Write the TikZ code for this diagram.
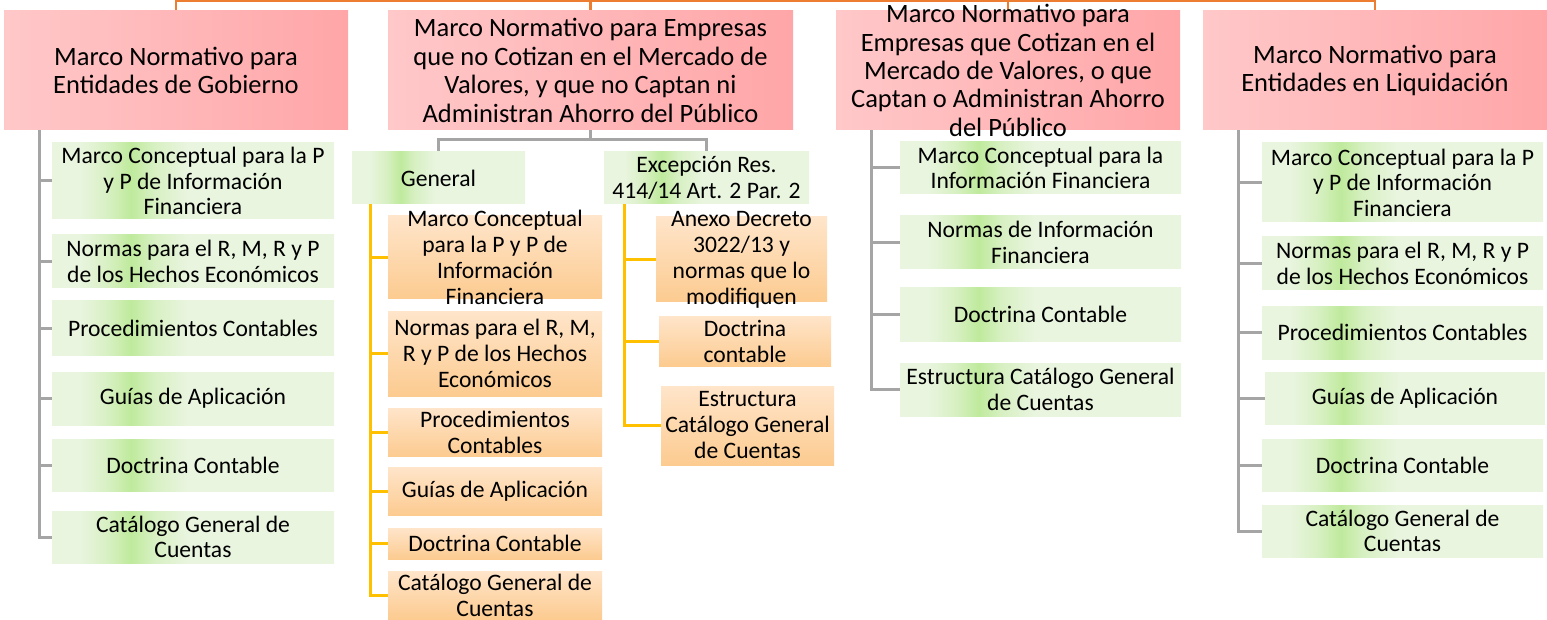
\documentclass[tikz,border=0pt]{standalone}
\usepackage{fontspec}
\setmainfont{Carlito}
\usetikzlibrary{backgrounds}
\definecolor{pinkL}{HTML}{FFC8C9}
\definecolor{pinkR}{HTML}{FFA6A8}
\definecolor{gL}{HTML}{E9F5DF}
\definecolor{gM}{HTML}{D7F0C2}
\definecolor{gD}{HTML}{BFEA9C}
\definecolor{orT}{HTML}{FFE5CA}
\definecolor{orB}{HTML}{FCCB90}
\definecolor{lineGray}{HTML}{A5A5A5}
\definecolor{gold}{HTML}{FFC000}
\definecolor{topOrange}{HTML}{ED7D31}
\pgfdeclarehorizontalshading{gband}{100bp}{color(0bp)=(gL); color(25bp)=(gL); color(30bp)=(gL); color(35bp)=(gM); color(39bp)=(gD); color(43bp)=(gM); color(49bp)=(gL); color(100bp)=(gL)}
\tikzset{
  hdr/.style={draw=none, left color=pinkL, right color=pinkR, inner sep=0pt},
  hdrtxt/.style={inner sep=0pt, align=center, text=black, font=\fontsize{26.5}{28.4}\selectfont},
  gbox/.style={draw=none, shade, shading=gband, inner sep=0pt},
  gboxtxt/.style={inner sep=0pt, align=center, text=black, font=\fontsize{23.6}{25.6}\selectfont},
  obox/.style={draw=none, top color=orT, bottom color=orB, inner sep=0pt},
  oboxtxt/.style={inner sep=0pt, align=center, text=black, font=\fontsize{23.6}{26}\selectfont},
  gline/.style={draw=lineGray, line width=3pt},
  yline/.style={draw=gold, line width=3pt},
  oline/.style={draw=topOrange, line width=2.5pt},
}
\newcommand\bx[7]{\node[#2, minimum width=#5pt, minimum height=#6pt] (#1) at (#3,#4) {};
  \node[#2txt] (#1-t) at (#1.center) {#7};}
\begin{document}
\begin{tikzpicture}[x=1pt,y=-1pt]
\useasboundingbox (0,0) rectangle (1547,620);
% headers
\bx{h1}{hdr}{176}{70.5}{344}{119}{Marco Normativo para\\Entidades de Gobierno}
\bx{h2}{hdr}{590.5}{70.5}{405}{119}{Marco Normativo para Empresas\\que no Cotizan en el Mercado de\\Valores, y que no Captan ni\\Administran Ahorro del Público}
\bx{h3}{hdr}{1008}{70.5}{344}{119}{Marco Normativo para\\Empresas que Cotizan en el\\Mercado de Valores, o que\\Captan o Administran Ahorro\\del Público}
\bx{h4}{hdr}{1375}{70.5}{344}{119}{Marco Normativo para\\Entidades en Liquidación}
% column 1
\bx{c1a}{gbox}{193}{181}{282}{76}{Marco Conceptual para la P\\y P de Información\\Financiera}
\bx{c1b}{gbox}{193}{261.5}{282}{53}{Normas para el R, M, R y P\\de los Hechos Económicos}
\bx{c1c}{gbox}{193}{328}{282}{54}{Procedimientos Contables}
\bx{c1d}{gbox}{193}{398.5}{282}{53}{Guías de Aplicación}
\bx{c1e}{gbox}{193}{465}{282}{52}{Doctrina Contable}
\bx{c1f}{gbox}{193}{537}{282}{52}{Catálogo General de\\Cuentas}
% column 2
\bx{gen}{gbox}{438.5}{178}{173}{52}{General}
\bx{exc}{gbox}{706.5}{178}{205}{52}{Excepción Res.\\414/14 Art. 2 Par. 2}
\bx{oa}{obox}{495}{257.5}{214}{83}{Marco Conceptual\\para la P y P de\\Información\\Financiera}
\bx{ob}{obox}{495}{353.5}{214}{85}{Normas para el R, M,\\R y P de los Hechos\\Económicos}
\bx{oc}{obox}{495}{432}{214}{48}{Procedimientos\\Contables}
\bx{od}{obox}{495}{491}{214}{48}{Guías de Aplicación}
\bx{oe}{obox}{495}{543.5}{214}{31}{Doctrina Contable}
\bx{of}{obox}{495}{595}{214}{48}{Catálogo General de\\Cuentas}
\bx{xa}{obox}{741.5}{259.5}{171}{85}{Anexo Decreto\\3022/13 y\\normas que lo\\modifiquen}
\bx{xb}{obox}{745}{341}{172}{50}{Doctrina\\contable}
\bx{xc}{obox}{747.5}{425.5}{173}{79}{Estructura\\Catálogo General\\de Cuentas}
% column 3
\bx{d1}{gbox}{1040.5}{168}{281}{52}{Marco Conceptual para la\\Información Financiera}
\bx{d2}{gbox}{1040.5}{242.5}{281}{53}{Normas de Información\\Financiera}
\bx{d3}{gbox}{1040.5}{314.5}{281}{53}{Doctrina Contable}
\bx{d4}{gbox}{1040.5}{389.5}{281}{53}{Estructura Catálogo General\\de Cuentas}
% column 4
\bx{e1}{gbox}{1402.5}{182.5}{281}{79}{Marco Conceptual para la P\\y P de Información\\Financiera}
\bx{e2}{gbox}{1402.5}{263.5}{281}{53}{Normas para el R, M, R y P\\de los Hechos Económicos}
\bx{e3}{gbox}{1402.5}{332.5}{281}{53}{Procedimientos Contables}
\bx{e4}{gbox}{1405}{398}{280}{52}{Guías de Aplicación}
\bx{e5}{gbox}{1402.5}{465}{281}{52}{Doctrina Contable}
\bx{e6}{gbox}{1402.5}{531}{281}{52}{Catálogo General de\\Cuentas}
% connectors
\begin{scope}[on background layer]
\coordinate (tl) at (0,1);
\draw[oline] (h1.north) -- (h1.north |- tl) -- (h4.north |- tl) -- (h4.north);
\draw[oline] (h2.north) -- (h2.north |- tl);
\draw[oline] (h3.north) -- (h3.north |- tl);
\coordinate (v1) at (39,130);
\foreach \n in {c1a,c1b,c1c,c1d,c1e,c1f} \draw[gline] (v1) |- (\n.west);
\coordinate (j2) at (590.5,140);
\draw[gline] (h2.south) -- (j2);
\draw[gline] (gen.north) |- (j2) -| (exc.north);
\coordinate (gv) at (370,204);
\foreach \n in {oa,ob,oc,od,oe,of} \draw[yline] (gv) |- (\n.west);
\coordinate (xv) at (624,204);
\foreach \n in {xa,xb,xc} \draw[yline] (xv) |- (\n.west);
\coordinate (v3) at (871,130);
\foreach \n in {d1,d2,d3,d4} \draw[gline] (v3) |- (\n.west);
\coordinate (v4) at (1238,130);
\foreach \n in {e1,e2,e3,e4,e5,e6} \draw[gline] (v4) |- (\n.west);
\end{scope}
\end{tikzpicture}
\end{document}
